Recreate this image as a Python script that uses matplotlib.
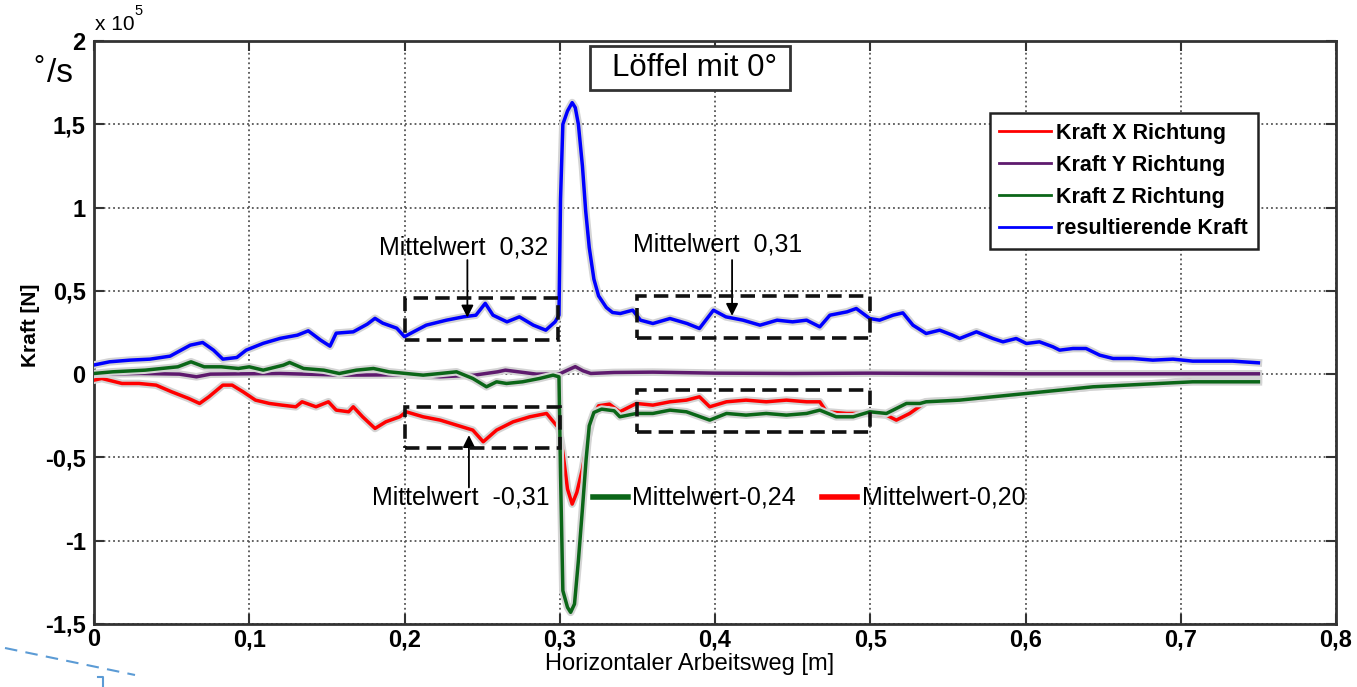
import numpy as np
import matplotlib
matplotlib.use('Agg')
import matplotlib.pyplot as plt
import matplotlib.patheffects as pe
from matplotlib.patches import Rectangle
from matplotlib.lines import Line2D

plt.rcParams['font.family'] = ['Liberation Sans', 'DejaVu Sans']

# --- data, force in units of 1e5 N -------------------------------------
x_res = [0.000, 0.010, 0.023, 0.036, 0.049, 0.062, 0.070, 0.077, 0.083, 0.092,
         0.098, 0.109, 0.120, 0.131, 0.138, 0.146, 0.152, 0.156, 0.167, 0.176,
         0.181, 0.186, 0.195, 0.200, 0.207, 0.214, 0.227, 0.238, 0.246, 0.252,
         0.257, 0.266, 0.274, 0.283, 0.291, 0.297, 0.2995, 0.3005, 0.302, 0.305,
         0.308, 0.310, 0.312, 0.3146, 0.3167, 0.319, 0.322, 0.325, 0.330, 0.334,
         0.339, 0.347, 0.352, 0.360, 0.371, 0.382, 0.390, 0.399, 0.407, 0.418,
         0.429, 0.440, 0.450, 0.459, 0.4675, 0.474, 0.485, 0.491, 0.4997, 0.506,
         0.5147, 0.521, 0.5275, 0.536, 0.5447, 0.553, 0.5576, 0.5684, 0.579, 0.5855,
         0.594, 0.6006, 0.609, 0.6177, 0.622, 0.6306, 0.639, 0.6478, 0.6564, 0.669,
         0.682, 0.695, 0.7077, 0.7205, 0.7334, 0.750]
kraft_res = [0.055, 0.074, 0.084, 0.090, 0.108, 0.174, 0.190, 0.144, 0.090, 0.100,
             0.144, 0.185, 0.215, 0.234, 0.260, 0.204, 0.168, 0.246, 0.254, 0.300,
             0.335, 0.306, 0.276, 0.225, 0.260, 0.294, 0.324, 0.344, 0.354, 0.425,
             0.354, 0.314, 0.344, 0.294, 0.264, 0.314, 0.354, 1.05, 1.50, 1.58,
             1.63, 1.60, 1.50, 1.25, 0.98, 0.76, 0.57, 0.47, 0.40, 0.37,
             0.364, 0.384, 0.324, 0.304, 0.334, 0.304, 0.274, 0.384, 0.344, 0.324,
             0.294, 0.324, 0.314, 0.324, 0.284, 0.354, 0.374, 0.394, 0.334, 0.324,
             0.354, 0.368, 0.294, 0.244, 0.264, 0.234, 0.214, 0.254, 0.214, 0.194,
             0.214, 0.184, 0.194, 0.164, 0.144, 0.154, 0.154, 0.114, 0.094, 0.094,
             0.084, 0.090, 0.078, 0.078, 0.078, 0.068]

x_fx = [0.000, 0.005, 0.018, 0.029, 0.040, 0.050, 0.061, 0.068, 0.074, 0.083,
        0.089, 0.096, 0.104, 0.113, 0.121, 0.130, 0.134, 0.143, 0.151, 0.156,
        0.164, 0.167, 0.173, 0.181, 0.188, 0.197, 0.201, 0.212, 0.223, 0.2335,
        0.244, 0.2507, 0.2593, 0.270, 0.2807, 0.2915, 0.2995, 0.302, 0.305, 0.308,
        0.311, 0.3146, 0.318, 0.321, 0.325, 0.332, 0.3387, 0.3494, 0.360, 0.371,
        0.3816, 0.390, 0.3966, 0.4074, 0.420, 0.433, 0.446, 0.459, 0.4675, 0.4718,
        0.4847, 0.4976, 0.5104, 0.5168, 0.5254, 0.536, 0.5576, 0.579, 0.6006, 0.622,
        0.6435, 0.665, 0.686, 0.7077, 0.729, 0.750]
kraft_x = [-0.036, -0.026, -0.056, -0.056, -0.066, -0.106, -0.146, -0.176, -0.136, -0.066,
           -0.066, -0.106, -0.156, -0.176, -0.186, -0.196, -0.166, -0.196, -0.166, -0.216,
           -0.226, -0.196, -0.256, -0.326, -0.286, -0.256, -0.226, -0.256, -0.276, -0.306,
           -0.336, -0.406, -0.336, -0.286, -0.256, -0.236, -0.326, -0.47, -0.69, -0.78,
           -0.71, -0.57, -0.39, -0.265, -0.19, -0.18, -0.226, -0.176, -0.186, -0.166,
           -0.156, -0.136, -0.196, -0.166, -0.156, -0.166, -0.156, -0.166, -0.166, -0.226,
           -0.236, -0.236, -0.246, -0.276, -0.236, -0.166, -0.156, -0.136, -0.116, -0.096,
           -0.076, -0.066, -0.056, -0.036, -0.036, -0.034]

x_fy = [0.000, 0.030, 0.055, 0.066, 0.075, 0.120, 0.160, 0.200, 0.223, 0.245,
        0.260, 0.265, 0.285, 0.300, 0.305, 0.310, 0.315, 0.320, 0.335, 0.360,
        0.400, 0.450, 0.500, 0.550, 0.600, 0.650, 0.700, 0.750]
kraft_y = [0.000, 0.004, 0.000, -0.016, 0.000, 0.004, -0.006, -0.004, -0.016, -0.006,
           0.014, 0.024, 0.000, 0.002, 0.024, 0.045, 0.020, 0.004, 0.010, 0.012,
           0.006, 0.004, 0.006, 0.004, 0.002, 0.002, 0.002, 0.002]

x_fz = [0.000, 0.012, 0.033, 0.054, 0.0625, 0.071, 0.082, 0.093, 0.100, 0.109,
        0.122, 0.126, 0.135, 0.148, 0.158, 0.169, 0.180, 0.190, 0.201, 0.212,
        0.223, 0.2335, 0.244, 0.2528, 0.2593, 0.2657, 0.276, 0.287, 0.2957, 0.2995,
        0.3005, 0.302, 0.305, 0.307, 0.3095, 0.312, 0.3146, 0.317, 0.319, 0.322,
        0.327, 0.335, 0.3387, 0.3494, 0.360, 0.371, 0.3816, 0.3966, 0.4074, 0.420,
        0.433, 0.446, 0.459, 0.4675, 0.478, 0.489, 0.4997, 0.5104, 0.5233, 0.532,
        0.536, 0.5576, 0.579, 0.6006, 0.622, 0.6435, 0.665, 0.686, 0.7077, 0.729, 0.750]
kraft_z = [0.004, 0.014, 0.024, 0.044, 0.074, 0.044, 0.044, 0.034, 0.044, 0.024,
           0.054, 0.070, 0.034, 0.024, 0.004, 0.024, 0.034, 0.014, 0.004, -0.006,
           0.004, 0.014, -0.026, -0.076, -0.046, -0.056, -0.046, -0.026, -0.006, -0.016,
           -0.60, -1.30, -1.40, -1.43, -1.38, -1.12, -0.81, -0.51, -0.31, -0.23,
           -0.21, -0.22, -0.256, -0.236, -0.236, -0.216, -0.226, -0.276, -0.236, -0.246,
           -0.236, -0.246, -0.236, -0.216, -0.256, -0.256, -0.226, -0.236, -0.176, -0.176,
           -0.166, -0.156, -0.136, -0.116, -0.096, -0.076, -0.066, -0.056, -0.046, -0.046, -0.046]

x_ticks = [0, 0.1, 0.2, 0.3, 0.4, 0.5, 0.6, 0.7, 0.8]
x_ticklabels = ['0', '0,1', '0,2', '0,3', '0,4', '0,5', '0,6', '0,7', '0,8']
y_ticks = [-1.5, -1, -0.5, 0, 0.5, 1, 1.5, 2]
y_ticklabels = ['-1,5', '-1', '-0,5', '0', '0,5', '1', '1,5', '2']

series = [
    ('Kraft X Richtung', x_fx, kraft_x, '#ff0000'),
    ('Kraft Y Richtung', x_fy, kraft_y, '#5e1a6e'),
    ('Kraft Z Richtung', x_fz, kraft_z, '#0b6618'),
    ('resultierende Kraft', x_res, kraft_res, '#0000ff'),
]

W, H = 1357, 687

def fx(px):
    return px / W

def fy(py):
    return 1 - py / H

# --- figure -------------------------------------------------------------
fig = plt.figure(figsize=(13.57, 6.87), dpi=100)
ax = fig.add_axes([94 / W, 63 / H, 1242 / W, 583 / H])

halo = [pe.Stroke(linewidth=5.5, foreground='#d4d4d4'), pe.Normal()]
for name, xs, ys, col in series:
    ax.plot(xs, ys, color=col, lw=2.5, label=name, path_effects=halo, zorder=3)

ax.set_xlim(0, 0.8)
ax.set_ylim(-1.5, 2)
ax.set_xticks(x_ticks)
ax.set_xticklabels(x_ticklabels, fontweight='bold')
ax.set_yticks(y_ticks)
ax.set_yticklabels(y_ticklabels, fontweight='bold')
ax.tick_params(direction='in', length=7, width=1.5, top=True, right=True,
               labelsize=17, color='#333333')
ax.tick_params(axis='x', pad=3)
ax.tick_params(axis='y', pad=6)
ax.grid(True, ls=':', color='#555555', lw=1.3)
for sp in ax.spines.values():
    sp.set_color('#333333')
    sp.set_linewidth(2)

leg = ax.legend(loc='upper right', bbox_to_anchor=(0.937, 0.876), borderaxespad=0,
                fancybox=False, framealpha=1, edgecolor='#222222', handlelength=2.4,
                prop={'size': 15.5, 'weight': 'bold'}, borderpad=0.45,
                labelspacing=0.5, handletextpad=0.25)
leg.get_frame().set_linewidth(1.8)
for line in leg.get_lines():
    line.set_path_effects([])
    line.set_linewidth(2)

# dashed boxes around the averaged regions
boxes = [(0.200, 0.204, 0.099, 0.252), (0.200, -0.444, 0.100, 0.246),
         (0.350, 0.216, 0.150, 0.252), (0.350, -0.348, 0.150, 0.252)]
for bx, by, bw, bh in boxes:
    ax.add_patch(Rectangle((bx, by), bw, bh, fill=False, ls=(0, (4, 2)),
                           lw=2.6, ec='#111111', zorder=4))

txt = dict(fontsize=18, color='black', zorder=5)
arrow = dict(arrowstyle='-|>', color='k', lw=1.3, mutation_scale=18,
             shrinkA=0, shrinkB=0)
ax.text(0.238, 0.762, 'Mittelwert  0,32', ha='center', va='center', **txt)
ax.annotate('', xy=(0.2405, 0.34), xytext=(0.2405, 0.685), arrowprops=arrow)
ax.text(0.402, 0.78, 'Mittelwert  0,31', ha='center', va='center', **txt)
ax.annotate('', xy=(0.411, 0.35), xytext=(0.411, 0.685), arrowprops=arrow)
ax.text(0.236, -0.738, 'Mittelwert  -0,31', ha='center', va='center', **txt)
ax.annotate('', xy=(0.2415, -0.366), xytext=(0.2415, -0.68), arrowprops=arrow)
ax.plot([0.3213, 0.3439], [-0.738, -0.738], color='#0b6618', lw=4, zorder=5)
ax.text(0.3464, -0.738, 'Mittelwert-0,24', ha='left', va='center', **txt)
ax.plot([0.4688, 0.4913], [-0.738, -0.738], color='#ff0000', lw=4, zorder=5)
ax.text(0.4945, -0.738, 'Mittelwert-0,20', ha='left', va='center', **txt)

# title box
fig.add_artist(Rectangle((fx(590), fy(90)), fx(200), 44 / H, transform=fig.transFigure,
                         fc='white', ec='#333333', lw=2, zorder=6))
fig.text(fx(695), fy(68), 'Löffel mit 0°', ha='center', va='center', fontsize=22.5,
         zorder=7)

# labels and decorations outside the axes
fig.text(fx(95), fy(30), 'x 10', fontsize=15, ha='left', va='baseline')
fig.text(fx(134), fy(15), '5', fontsize=10.5, ha='left', va='baseline')
fig.text(fx(30), fy(325), 'Kraft [N]', rotation=90, fontsize=15,
         fontweight='bold', ha='center', va='center')
fig.text(fx(690), fy(664), 'Horizontaler Arbeitsweg [m]', fontsize=17,
         ha='center', va='center', family=['Liberation Sans Narrow', 'Liberation Sans'])
fig.text(fx(33), fy(75), '°', fontsize=20, ha='left', va='baseline')
fig.text(fx(47), fy(73), '/s', fontsize=24, ha='left', va='center')

fig.add_artist(Line2D([fx(5), fx(135)], [fy(648), fy(675)],
                      transform=fig.transFigure, color='#5b9bd5', lw=1.5, ls=(0, (6, 4))))
fig.add_artist(Line2D([fx(98), fx(103), fx(103)], [fy(677), fy(677), 0],
                      transform=fig.transFigure, color='#5b9bd5', lw=1.5))

fig.savefig('out.png', dpi=100)
